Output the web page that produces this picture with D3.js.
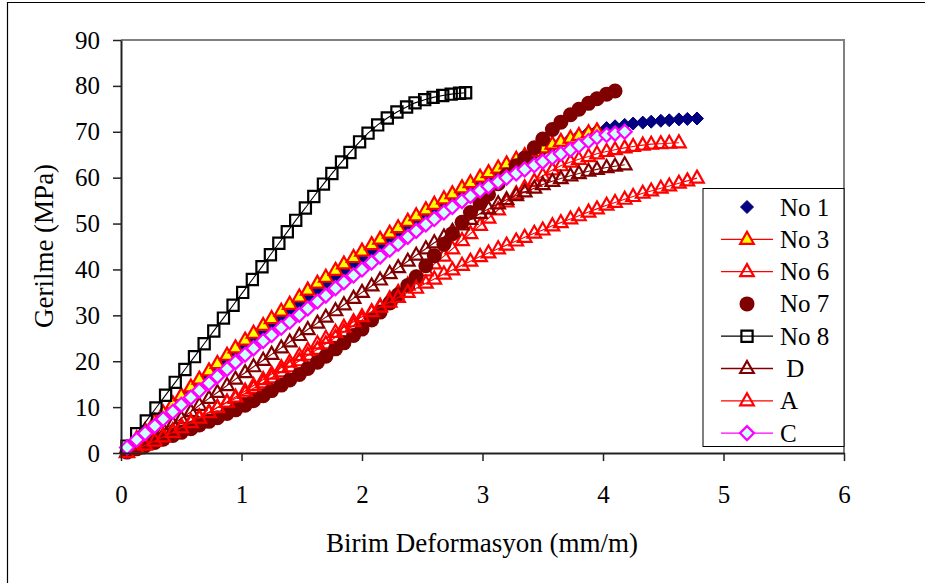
<!DOCTYPE html>
<html lang="tr">
<head>
<meta charset="utf-8">
<title>Gerilme - Birim Deformasyon</title>
<script src="https://d3js.org/d3.v7.min.js"></script>
<style>
  body { margin: 0; background: #fff; }
</style>
</head>
<body>
<div id="chart"></div>
<script>
var w = 925, h = 583;
var serif = "Liberation Serif, Times New Roman, serif";

// shared strain readings (mm/m)
var strain = [0.05,0.13,0.20,0.28,0.35,0.43,0.50,0.58,0.65,0.73,0.80,0.88,0.95,1.03,1.10,1.18,1.25,1.33,1.40,1.48,
  1.55,1.63,1.70,1.78,1.85,1.93,2.00,2.08,2.15,2.23,2.30,2.38,2.45,2.53,2.60,2.68,2.75,2.83,2.90,2.98,
  3.05,3.13,3.20,3.28,3.35,3.43,3.50,3.58,3.65,3.73,3.80,3.88,3.95,4.03,4.10,4.18,4.25,4.33,4.40,4.48,
  4.55,4.63,4.70,4.78];

// stress readings (MPa)
var no1 = [1.0,2.9,4.5,6.4,8.0,9.9,11.5,13.3,14.8,16.6,18.1,19.9,21.4,23.1,24.6,26.3,27.8,29.5,30.9,32.6,
  34.0,35.6,36.9,38.5,39.8,41.2,42.5,43.9,45.1,46.5,47.7,49.1,50.3,51.6,52.8,54.1,55.2,56.5,57.6,58.8,
  59.9,61.1,62.0,63.2,64.1,65.2,66.0,66.9,67.7,68.5,69.2,69.9,70.3,70.8,71.2,71.5,71.8,72.0,72.2,72.4,
  72.5,72.7,72.8,72.9];
var no3 = [1.0,3.1,4.9,6.9,8.7,10.7,12.5,14.4,16.1,17.9,19.5,21.3,22.9,24.6,26.1,27.8,29.3,30.9,32.4,34.0,
  35.5,37.0,38.3,39.8,41.2,42.6,44.0,45.4,46.6,47.9,49.1,50.5,51.7,53.0,54.2,55.4,56.5,57.8,58.9,60.1,
  61.1,62.1,63.0,64.0,64.8,65.7,66.5,67.3,67.9,68.6,69.2,69.8,70.2];
var no6 = [0.2,1.1,2.0,3.0,3.9,4.9,5.9,6.9,7.9,8.9,9.9,11.0,11.9,13.0,14.1,15.3,16.4,17.7,18.8,20.1,
  21.3,22.6,23.8,25.2,26.4,27.8,29.0,30.6,32.0,33.6,35.0,36.6,38.0,39.7,41.2,42.9,44.5,46.3,47.8,49.6,
  51.2,53.0,54.7,56.5,57.8,59.2,60.4,61.7,62.6,63.4,64.0,64.6,65.2,65.7,66.1,66.5,66.8,67.1,67.3,67.4,
  67.5,67.6];
var no7 = [0.2,0.9,1.6,2.3,3.0,3.8,4.5,5.3,6.1,6.9,7.7,8.6,9.4,10.4,11.4,12.5,13.6,14.8,15.9,17.1,
  18.4,19.8,21.1,22.7,24.0,25.6,27.0,29.0,30.7,32.7,34.5,36.5,38.4,40.8,43.0,45.5,47.8,50.3,52.4,54.5,
  56.4,58.7,60.6,62.6,64.3,66.5,68.4,70.5,72.1,73.7,74.9,76.2,77.2,78.2,78.9];
var dSer = [0.2,1.3,2.5,3.8,5.0,6.3,7.5,9.0,10.4,11.9,13.2,14.7,16.1,17.5,18.8,20.2,21.5,22.9,24.2,25.6,
  26.9,28.3,29.6,31.0,32.3,33.7,35.0,36.4,37.7,39.1,40.4,41.8,43.1,44.5,45.8,47.1,48.3,49.7,50.9,52.2,
  53.2,54.3,55.2,56.1,56.9,57.7,58.5,59.2,59.8,60.4,60.9,61.4,61.8,62.2,62.5,62.8];
var aSer = [0.1,0.9,1.7,2.6,3.5,4.5,5.5,6.6,7.6,8.8,9.9,11.1,12.2,13.5,14.7,16.0,17.2,18.6,19.8,21.2,
  22.4,23.8,25.0,26.3,27.4,28.6,29.7,30.8,31.8,32.9,33.9,35.0,35.9,37.0,37.9,39.0,39.9,40.9,41.8,42.8,
  43.6,44.5,45.3,46.2,47.0,47.9,48.6,49.5,50.2,51.0,51.7,52.5,53.2,54.0,54.6,55.3,55.9,56.6,57.1,57.7,
  58.2,58.8,59.3,59.9];
var cSer = [1.2,2.9,4.3,5.9,7.4,9.0,10.5,12.1,13.6,15.2,16.7,18.3,19.8,21.4,22.8,24.4,25.7,27.3,28.6,30.1,
  31.5,33.0,34.3,35.9,37.2,38.7,40.0,41.5,42.8,44.3,45.6,47.1,48.4,49.8,51.0,52.4,53.6,54.9,56.0,57.2,
  58.1,59.1,60.0,60.9,61.8,62.7,63.5,64.4,65.2,66.1,67.0,68.0,68.8,69.3,69.6,70.0];

// No 8 has its own strain readings
var no8Strain = [0.05,0.13,0.21,0.29,0.37,0.45,0.53,0.61,0.69,0.77,0.85,0.93,1.01,1.09,1.17,1.24,1.31,1.38,1.45,1.53,
  1.60,1.68,1.75,1.83,1.90,1.98,2.05,2.13,2.21,2.29,2.37,2.44,2.52,2.59,2.67,2.74,2.81,2.86];
var no8 = [1.5,4.2,7.0,9.8,12.6,15.4,18.2,21.0,23.8,26.6,29.4,32.2,35.0,37.8,40.6,43.2,45.7,48.2,50.7,53.4,
  55.9,58.6,60.9,63.4,65.5,67.8,69.7,71.5,73.0,74.3,75.4,76.3,77.0,77.5,77.9,78.2,78.4,78.5];

var xTicks = [0,1,2,3,4,5,6];
var yTicks = [0,10,20,30,40,50,60,70,80,90];

var series = [
  {name: "No 1", xs: strain, ys: no1, line: null, marker: "diamondS", fill: "#000080", stroke: "#000080"},
  {name: "No 3", xs: strain, ys: no3, line: "#ff0000", marker: "triangle", fill: "#ffff00", stroke: "#ff0000"},
  {name: "No 6", xs: strain, ys: no6, line: "#ff0000", marker: "triangle", fill: "none", stroke: "#ff0000"},
  {name: "No 7", xs: strain, ys: no7, line: null, marker: "circle", fill: "#800000", stroke: "#800000"},
  {name: "No 8", xs: no8Strain, ys: no8, line: "#000000", marker: "square", fill: "none", stroke: "#000000"},
  {name: "\u00a0D", xs: strain, ys: dSer, line: "#800000", marker: "triangle", fill: "none", stroke: "#800000"},
  {name: "A", xs: strain, ys: aSer, line: "#ff0000", marker: "triangle", fill: "none", stroke: "#ff0000"},
  {name: "C", xs: strain, ys: cSer, line: "#ff00ff", marker: "diamond", fill: "#ccffff", stroke: "#ff00ff"}
];

var xScale = d3.scaleLinear().domain([0, 6]).range([121, 844]);
var yScale = d3.scaleLinear().domain([0, 90]).range([453, 40]);

var svg = d3.select("#chart").append("svg")
  .attr("width", w).attr("height", h);

svg.append("rect").attr("width", w).attr("height", h).attr("fill", "#fff");

// outer frame (top and left edges visible)
svg.append("path")
  .attr("d", "M7.5,600 L7.5,2.5 L940,2.5")
  .attr("fill", "none").attr("stroke", "#000").attr("stroke-width", 1.2);

// plot frame: grey top and right
svg.append("path")
  .attr("d", "M" + xScale(0) + "," + yScale(90) + " L" + xScale(6) + "," + yScale(90) + " L" + xScale(6) + "," + yScale(0))
  .attr("fill", "none").attr("stroke", "#808080").attr("stroke-width", 2);

function markerPath(type) {
  if (type === "triangle") return "M0,-7.5 L6.8,4.5 L-6.8,4.5 Z";
  if (type === "square") return "M-5.6,-5.6 L5.6,-5.6 L5.6,5.6 L-5.6,5.6 Z";
  if (type === "diamond") return "M0,-7 L7,0 L0,7 L-7,0 Z";
  if (type === "diamondS") return "M0,-6.5 L6.5,0 L0,6.5 L-6.5,0 Z";
  return null;
}

function drawMarkers(g, s, pts) {
  if (s.marker === "circle") {
    g.selectAll("circle").data(pts).enter().append("circle")
      .attr("cx", function(d){ return xScale(d[0]); })
      .attr("cy", function(d){ return yScale(d[1]); })
      .attr("r", 7.5)
      .attr("fill", s.fill);
  } else {
    g.selectAll("path.m").data(pts).enter().append("path")
      .attr("class", "m")
      .attr("d", markerPath(s.marker))
      .attr("transform", function(d){ return "translate(" + xScale(d[0]) + "," + yScale(d[1]) + ")"; })
      .attr("fill", s.fill)
      .attr("stroke", s.stroke)
      .attr("stroke-width", s.marker === "diamondS" ? 1 : 2.2)
      .attr("stroke-linejoin", "miter");
  }
}

var line = d3.line()
  .x(function(d){ return xScale(d[0]); })
  .y(function(d){ return yScale(d[1]); });

series.forEach(function(s) {
  var pts = s.ys.map(function(v, i){ return [s.xs[i], v]; });
  var g = svg.append("g");
  if (s.line) {
    g.append("path").datum(pts)
      .attr("d", line)
      .attr("fill", "none")
      .attr("stroke", s.line)
      .attr("stroke-width", 1.1);
  }
  drawMarkers(g, s, pts);
});

// axes
var yAxis = svg.append("g")
  .attr("transform", "translate(" + xScale(0) + ",0)")
  .call(d3.axisLeft(yScale).tickValues(yTicks).tickFormat(d3.format("d"))
    .tickSize(8).tickSizeOuter(0).tickPadding(13));
var xAxis = svg.append("g")
  .attr("transform", "translate(0," + yScale(0) + ")")
  .call(d3.axisBottom(xScale).tickValues(xTicks).tickFormat(d3.format("d"))
    .tickSize(8).tickSizeOuter(0).tickPadding(24));

[yAxis, xAxis].forEach(function(a) {
  a.attr("font-family", serif).attr("font-size", 25);
  a.select(".domain").attr("stroke", "#222").attr("stroke-width", 2);
  a.selectAll(".tick line").attr("stroke", "#222").attr("stroke-width", 1.5);
  a.selectAll(".tick text").attr("fill", "#000");
});

// axis titles
svg.append("text")
  .attr("x", 482).attr("y", 552)
  .attr("text-anchor", "middle")
  .attr("font-family", serif).attr("font-size", 27)
  .text("Birim Deformasyon (mm/m)");

svg.append("text")
  .attr("transform", "translate(53,246) rotate(-90)")
  .attr("text-anchor", "middle")
  .attr("font-family", serif).attr("font-size", 27)
  .text("Gerilme (MPa)");

// legend
var legend = svg.append("g");
legend.append("rect")
  .attr("x", 703).attr("y", 188.5)
  .attr("width", xScale(6) - 703).attr("height", 258)
  .attr("fill", "#fff").attr("stroke", "#000").attr("stroke-width", 1);

series.forEach(function(s, i) {
  var cy = 207 + i * 32.3;
  var item = legend.append("g");
  if (s.line) {
    item.append("line")
      .attr("x1", 721).attr("x2", 773)
      .attr("y1", cy).attr("y2", cy)
      .attr("stroke", s.line).attr("stroke-width", 1.3);
  }
  drawMarkers(item, s, [[xScale.invert(747), yScale.invert(cy)]]);
  item.append("text")
    .attr("x", 780).attr("y", cy + 8.5)
    .attr("font-family", serif).attr("font-size", 25)
    .text(s.name);
});
</script>
</body>
</html>
